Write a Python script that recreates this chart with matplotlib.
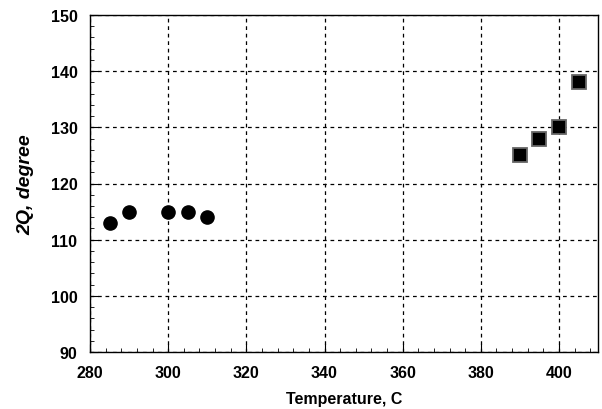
import matplotlib
matplotlib.use("Agg")
import matplotlib.pyplot as plt
from matplotlib.ticker import MultipleLocator

# circles: lower temperature series
temp_low = [285, 290, 300, 305, 310]
angle_low = [113, 115, 115, 115, 114]

# squares: higher temperature series
temp_high = [390, 395, 400, 405]
angle_high = [125, 128, 130, 138]

plt.rcParams['font.family'] = ['Liberation Sans', 'DejaVu Sans']

fig = plt.figure(figsize=(6.02, 4.10), dpi=100)
ax = fig.add_axes([0.1495, 0.139, 0.844, 0.822])

ax.plot(temp_low, angle_low, 'o', color='black', markersize=9.5, zorder=3)
ax.plot(temp_high, angle_high, 's', color='black', markeredgecolor='#666666',
        markeredgewidth=1.3, markersize=10, zorder=3)

ax.set_xlim(280, 410)
ax.set_ylim(90, 150)
ax.xaxis.set_major_locator(MultipleLocator(20))
ax.xaxis.set_minor_locator(MultipleLocator(4))
ax.yaxis.set_major_locator(MultipleLocator(10))
ax.yaxis.set_minor_locator(MultipleLocator(2))
ax.tick_params(which='both', direction='in', top=False, right=False)
ax.tick_params(which='major', length=6, labelsize=11.5)
ax.tick_params(which='minor', length=3)
ax.tick_params(axis='x', which='major', pad=9)
ax.tick_params(axis='y', which='major', pad=9)
for lbl in ax.get_xticklabels() + ax.get_yticklabels():
    lbl.set_fontweight('bold')

ax.grid(True, which='major', color='black', linestyle=(0, (3, 3)), linewidth=0.9)
for sp in ax.spines.values():
    sp.set_linewidth(1.0)

ax.set_xlabel('Temperature, C', fontsize=11.5, fontweight='bold', labelpad=8)
ax.set_ylabel('2Q, degree', fontsize=14, fontweight='bold', style='italic', labelpad=12)

fig.savefig('out.png', dpi=100)
